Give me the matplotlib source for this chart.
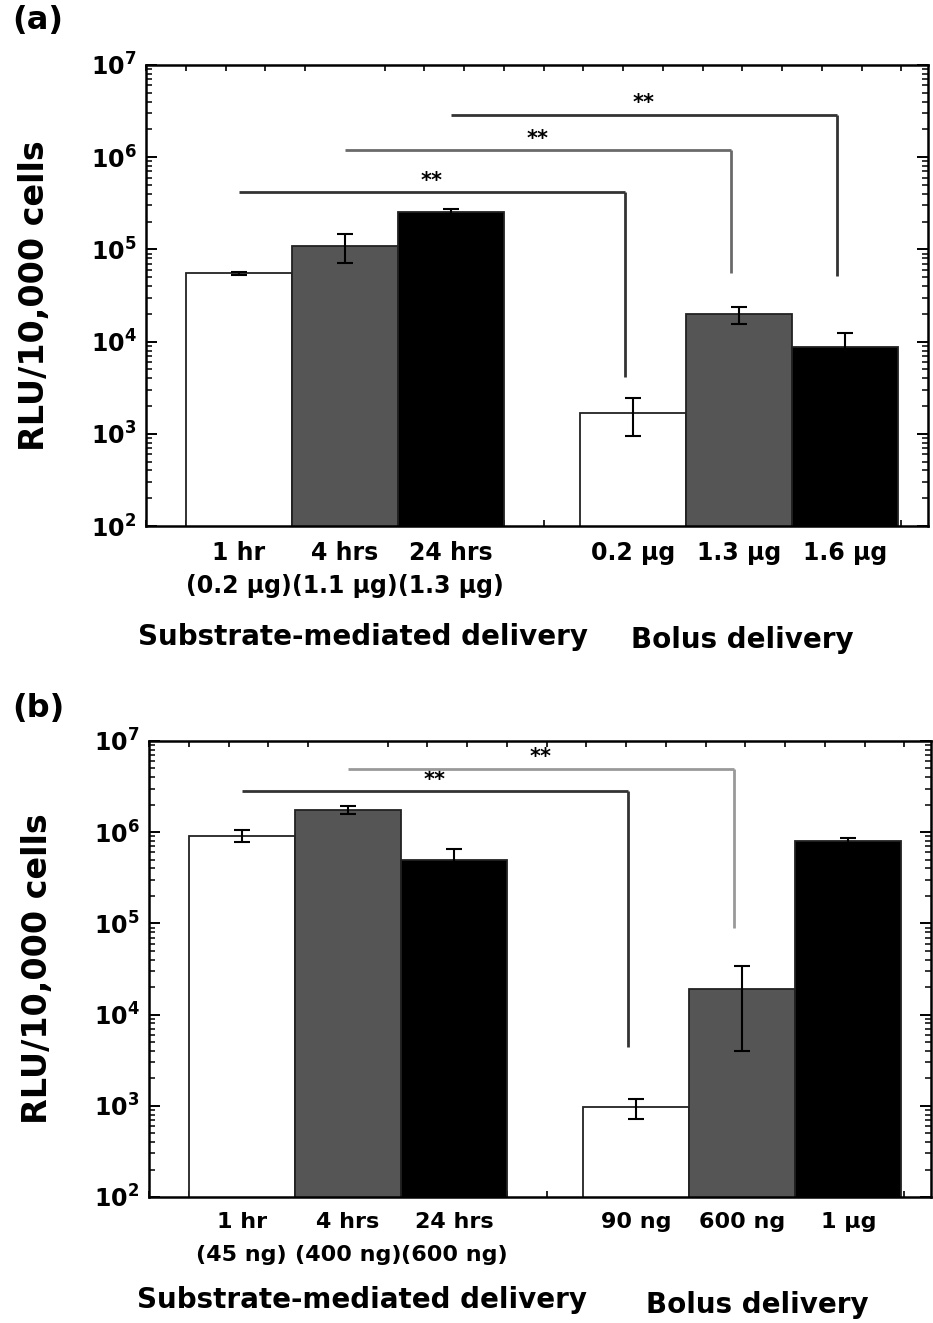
import numpy as np
import matplotlib
matplotlib.use('Agg')
import matplotlib.pyplot as plt
from matplotlib.ticker import FixedLocator, LogLocator, NullFormatter, FuncFormatter

# === DATA ===
labels_a = ['1 hr\n(0.2 µg)', '4 hrs\n(1.1 µg)', '24 hrs\n(1.3 µg)', '0.2 µg', '1.3 µg', '1.6 µg']
values_a = [5.5e4, 1.1e5, 2.55e5, 1.7e3, 1.97e4, 8.7e3]
errors_a = [2e3, 3.8e4, 2e4, 7.5e2, 4e3, 3.7e3]
# (from bar, to bar, level of horizontal line, lower end of drop line)
brackets_a = [(0, 3, 4.2e5, 4.1e3), (1, 4, 1.2e6, 5.6e4), (2, 5, 2.9e6, 5.1e4)]

labels_b = ['1 hr\n(45 ng)', '4 hrs\n(400 ng)', '24 hrs\n(600 ng)', '90 ng', '600 ng', '1 µg']
values_b = [9.2e5, 1.76e6, 5.0e5, 9.6e2, 1.9e4, 8.1e5]
errors_b = [1.4e5, 1.6e5, 1.5e5, 2.4e2, 1.5e4, 6e4]
brackets_b = [(0, 3, 2.8e6, 4.4e3), (1, 4, 4.95e6, 9e4)]

groups = ['Substrate-mediated delivery', 'Bolus delivery']

# === STYLE ===
plt.rcParams['font.family'] = ['DejaVu Sans']
plt.rcParams['font.weight'] = 'bold'
plt.rcParams['mathtext.default'] = 'bf'

bar_colors = ['white', '#555555', 'black'] * 2
pos = np.array([1, 2, 3, 4.72, 5.72, 6.72])
W, H = 933, 1323


def panel(ax, labels, values, errors, brackets, br_colors, grp_x, grp_dy, tick_fs, lsp):
    ax.bar(pos, values, width=1.0, color=bar_colors, edgecolor='#222222',
           linewidth=1.3, zorder=2)
    ax.errorbar(pos, values, yerr=errors, fmt='none', ecolor='black',
                elinewidth=1.5, capsize=6, capthick=1.5, zorder=3)
    ax.set_yscale('log')
    ax.set_ylim(1e2, 1e7)
    ax.set_xlim(0.125, 7.5)

    for (i, j, top, low), c in zip(brackets, br_colors):
        x0, x1 = pos[i], pos[j] - 0.08
        ax.plot([x0, x1], [top, top], color=c, lw=2.0, zorder=4,
                solid_capstyle='butt')
        ax.plot([x1, x1], [top, low], color=c, lw=2.0, zorder=4,
                solid_capstyle='butt')
        ax.annotate('**', xy=((x0 + x1) / 2, top), xytext=(0, 1),
                    textcoords='offset points', ha='center', va='bottom',
                    fontsize=15, fontweight='bold')

    ax.set_xticks(pos)
    ax.set_xticklabels(labels, fontsize=tick_fs, fontweight='bold',
                       linespacing=lsp, va='top')
    ax.xaxis.set_minor_locator(FixedLocator(np.arange(0.125, 7.5, 0.375)))
    ax.tick_params(axis='x', which='major', length=0, pad=11)
    ax.tick_params(axis='x', which='minor', direction='in', length=4,
                   width=1.2, top=True, bottom=True)

    ax.yaxis.set_major_locator(LogLocator(base=10, numticks=10))
    ax.yaxis.set_minor_locator(LogLocator(base=10, subs=np.arange(2, 10), numticks=20))
    ax.yaxis.set_minor_formatter(NullFormatter())
    ax.yaxis.set_major_formatter(FuncFormatter(lambda v, p: r'$\mathbf{10^{%d}}$' % round(np.log10(v))))
    ax.tick_params(axis='y', which='major', direction='in', length=8, width=1.4,
                   left=True, right=True, labelsize=17, pad=7)
    ax.tick_params(axis='y', which='minor', direction='in', length=4, width=1.1,
                   left=True, right=True)

    for s in ax.spines.values():
        s.set_linewidth(1.8)

    ax.set_ylabel('RLU/10,000 cells', fontsize=24, fontweight='bold')
    ax.yaxis.set_label_coords(-0.122, 0.5)

    for name, gx, dy in zip(groups, grp_x, grp_dy):
        ax.annotate(name, xy=(gx, 0), xycoords=ax.get_xaxis_transform(),
                    xytext=(0, -dy), textcoords='offset points',
                    ha='center', va='center', fontsize=20, fontweight='bold')


fig = plt.figure(figsize=(W / 100, H / 100), dpi=100)

ax_a = fig.add_axes([146 / W, 1 - 526 / H, (928 - 146) / W, (526 - 65) / H])
panel(ax_a, labels_a, values_a, errors_a, brackets_a,
      ['#333333', '#6a6a6a', '#333333'], [2.17, 5.75], [80, 82], 17, 1.45)

ax_b = fig.add_axes([149 / W, 1 - 1197 / H, (931 - 149) / W, (1197 - 741) / H])
panel(ax_b, labels_b, values_b, errors_b, brackets_b,
      ['#333333', '#999999'], [2.13, 5.86], [74, 78], 16, 1.8)

fig.text(12 / W, 1 - 21 / H, '(a)', fontsize=23, fontweight='bold', va='center')
fig.text(12 / W, 1 - 709 / H, '(b)', fontsize=23, fontweight='bold', va='center')

fig.savefig('out.png', dpi=100)
